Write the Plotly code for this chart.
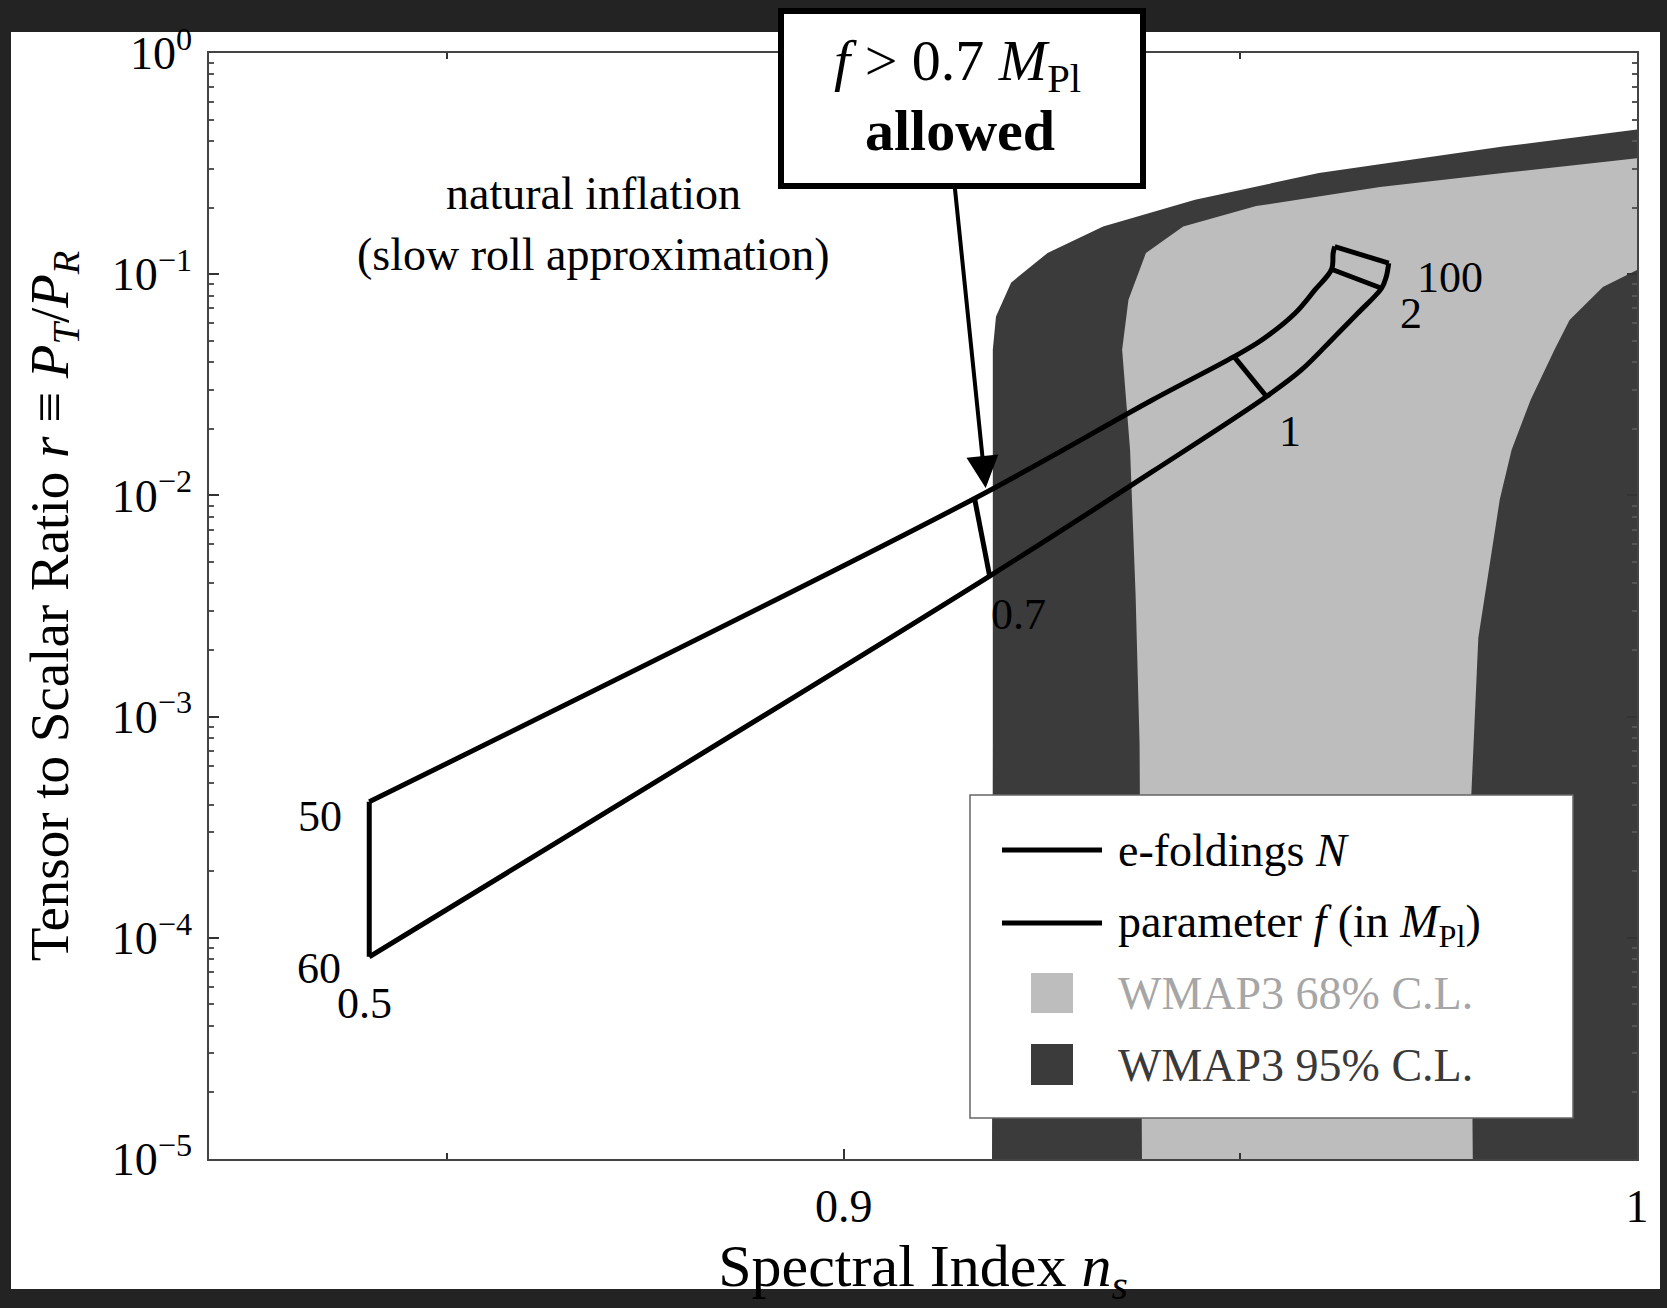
import numpy as np
import plotly.graph_objects as go

# ---------------- data ----------------
# axes
x_range = [0.82, 1.0]
y_range_log = [-5, 0]
x_tickvals = [0.9, 1.0]
x_ticktext = ["0.9", "1"]
x_minor = [0.85, 0.95]
y_tickvals = [1e-5, 1e-4, 1e-3, 1e-2, 1e-1, 1e0]
y_ticktext = ["10<sup>−5</sup>", "10<sup>−4</sup>", "10<sup>−3</sup>",
              "10<sup>−2</sup>", "10<sup>−1</sup>", "10<sup>0</sup>"]

# natural inflation, N = 50 e-foldings (upper curve)
ns_N50 = [0.8402, 0.9165, 0.9389, 0.9492, 0.9527, 0.9569, 0.9594, 0.9615, 0.9617, 0.9619]
r_N50 = [4.12e-4, 9.69e-3, 2.70e-2, 4.24e-2, 5.04e-2, 6.66e-2, 8.49e-2, 0.1053, 0.1244, 0.1334]
# natural inflation, N = 60 e-foldings (lower curve)
ns_N60 = [0.8402, 0.9184, 0.9389, 0.9533, 0.9577, 0.9619, 0.9648, 0.9678, 0.9684, 0.9687]
r_N60 = [8.20e-5, 4.32e-3, 1.28e-2, 2.80e-2, 3.69e-2, 5.22e-2, 6.66e-2, 8.64e-2, 9.76e-2, 0.1121]
# parameter f (in M_Pl) lines: index of the point on each N curve
f_labels = ["0.5", "0.7", "1", "2", "100"]
f_idx_N50 = [0, 1, 3, 7, 9]
f_idx_N60 = [0, 1, 3, 7, 9]
N_labels = ["50", "60"]

# WMAP3 95% C.L. region
ns_wmap95 = [0.9187, 0.9188, 0.9188, 0.9192, 0.9211, 0.9257, 0.9327, 0.9443, 0.9599, 0.9831, 1.0, 1.0]
r_wmap95 = [1e-5, 7.5e-4, 4.56e-2, 6.43e-2, 9.16e-2, 0.1247, 0.1644, 0.2173, 0.2864, 0.3776, 0.4508, 1e-5]
# WMAP3 68% C.L. region
ns_wmap68 = [0.9376, 0.9373, 0.9368, 0.9361, 0.9351, 0.9359, 0.9381, 0.9428, 0.9520, 0.9676,
             0.9831, 1.0, 1.0, 0.9957, 0.9915, 0.9896, 0.9866, 0.9842, 0.9827, 0.9800,
             0.9791, 0.9791, 0.9793]
r_wmap68 = [1e-5, 7.5e-4, 3.53e-3, 1.61e-2, 4.56e-2, 7.67e-2, 0.1247, 0.1645, 0.2032, 0.2477,
            0.2864, 0.3342, 0.1045, 0.0875, 0.0621, 0.0456, 0.0271, 0.0161, 0.00957, 2.27e-3,
            4.31e-4, 8.18e-5, 1e-5]

# arrow target (f = 0.7 point)
arrow_ns, arrow_r = 0.9179, 1.08e-2

# ---------------- figure ----------------
W, H = 1667, 1308
L, R, T, B = 209, 30, 53, 149
pw, ph = W - L - R, H - T - B


def px(x):
    return (x - L) / pw


def py(y):
    return 1 - (y - T) / ph


FONT = "Liberation Serif"
fig = go.Figure()

fig.add_trace(go.Scatter(x=ns_wmap95, y=r_wmap95, mode="lines", fill="toself",
                         fillcolor="#3b3b3b", line=dict(width=0, color="#3b3b3b"),
                         hoverinfo="skip"))
fig.add_trace(go.Scatter(x=ns_wmap68, y=r_wmap68, mode="lines", fill="toself",
                         fillcolor="#bdbdbd", line=dict(width=0, color="#bdbdbd"),
                         hoverinfo="skip"))

for xs, ys in ((ns_N50, r_N50), (ns_N60, r_N60)):
    fig.add_trace(go.Scatter(x=xs, y=ys, mode="lines",
                             line=dict(color="black", width=5, shape="spline", smoothing=1.0)))

for i50, i60 in zip(f_idx_N50, f_idx_N60):
    fig.add_trace(go.Scatter(x=[ns_N50[i50], ns_N60[i60]], y=[r_N50[i50], r_N60[i60]],
                             mode="lines", line=dict(color="black", width=5)))

y_minor = [m * 10.0 ** e for e in range(-5, 0) for m in range(2, 10)]

fig.update_xaxes(range=x_range, tickvals=x_tickvals, ticktext=x_ticktext,
                 ticks="inside", ticklen=10, tickwidth=1.5, tickcolor="#333",
                 mirror="ticks", showline=True, linecolor="#444", linewidth=1.5,
                 showgrid=False, zeroline=False, tickfont=dict(size=46, family=FONT),
                 ticklabelstandoff=6,
                 minor=dict(tickvals=x_minor, ticks="inside", ticklen=6, tickcolor="#333"),
                 title=dict(text="Spectral Index <i>n</i><sub><i>s</i></sub>",
                            font=dict(size=60, family=FONT), standoff=14))
fig.update_yaxes(type="log", range=y_range_log, tickvals=y_tickvals, ticktext=y_ticktext,
                 ticks="inside", ticklen=10, tickwidth=1.5, tickcolor="#333",
                 mirror="ticks", showline=True, linecolor="#444", linewidth=1.5,
                 showgrid=False, zeroline=False, tickfont=dict(size=46, family=FONT),
                 ticklabelstandoff=6,
                 minor=dict(tickvals=y_minor, ticks="inside", ticklen=5, tickcolor="#555"),
                 title=dict(text="Tensor to Scalar Ratio <i>r</i> ≡ <i>P</i><sub><i>T</i></sub>/<i>P</i><sub><i>R</i></sub>",
                            font=dict(size=55, family=FONT), standoff=26))

shapes = [
    # scanned page (white) over dark scanner background
    dict(type="rect", xref="paper", yref="paper", x0=px(11), x1=px(1660), y0=py(1289), y1=py(32),
         fillcolor="white", line=dict(width=0), layer="below"),
    # annotation box
    dict(type="rect", xref="paper", yref="paper", x0=px(781), x1=px(1143), y0=py(186), y1=py(11),
         fillcolor="white", line=dict(color="black", width=6), layer="above"),
    # legend box
    dict(type="rect", xref="paper", yref="paper", x0=px(970), x1=px(1573), y0=py(1118), y1=py(795),
         fillcolor="white", line=dict(color="#666", width=1.5), layer="above"),
    dict(type="line", xref="paper", yref="paper", x0=px(1002), x1=px(1102), y0=py(850), y1=py(850),
         line=dict(color="black", width=5), layer="above"),
    dict(type="line", xref="paper", yref="paper", x0=px(1002), x1=px(1102), y0=py(923), y1=py(923),
         line=dict(color="black", width=5), layer="above"),
    dict(type="rect", xref="paper", yref="paper", x0=px(1031), x1=px(1073), y0=py(1013), y1=py(973),
         fillcolor="#bdbdbd", line=dict(width=0), layer="above"),
    dict(type="rect", xref="paper", yref="paper", x0=px(1031), x1=px(1073), y0=py(1085), y1=py(1044),
         fillcolor="#3b3b3b", line=dict(width=0), layer="above"),
]

ann = []


def text(t, x, y, size=44, color="black", xanchor="center"):
    ann.append(dict(text=t, xref="paper", yref="paper", x=px(x), y=py(y), showarrow=False,
                    xanchor=xanchor, yanchor="middle",
                    font=dict(size=size, family=FONT, color=color)))


# curve labels
text(N_labels[0], 320, 816)
text(N_labels[1], 319, 968)
text(f_labels[0], 364, 1003)
text(f_labels[1], 1018, 614)
text(f_labels[2], 1290, 431)
text(f_labels[3], 1411, 313)
text(f_labels[4], 1450, 277)
text("natural inflation", 593, 193, size=46)
text("(slow roll approximation)", 593, 255, size=46)
# box text
text("<i>f</i> > 0.7 <i>M</i><sub>Pl</sub>", 957, 64, size=58)
text("<b>allowed</b>", 960, 130, size=58)
# legend text
text("e-foldings <i>N</i>", 1116, 850, size=46, xanchor="left")
text("parameter <i>f</i> (in <i>M</i><sub>Pl</sub>)", 1116, 925, size=46, xanchor="left")
text("WMAP3 68% C.L.", 1116, 993, size=46, color="#a6a6a6", xanchor="left")
text("WMAP3 95% C.L.", 1116, 1065, size=46, color="#3a3a3a", xanchor="left")

# arrow from box to the f = 0.7 point
ann.append(dict(x=arrow_ns, y=float(np.log10(arrow_r)), xref="x", yref="y", ax=-31, ay=-302,
                axref="pixel", ayref="pixel", text="", showarrow=True, arrowhead=2,
                arrowsize=1.6, arrowwidth=4, arrowcolor="black"))

fig.update_layout(width=W, height=H, margin=dict(l=L, r=R, t=T, b=B, autoexpand=False),
                  paper_bgcolor="#232323", plot_bgcolor="white", showlegend=False,
                  font=dict(family=FONT, color="black"),
                  shapes=shapes, annotations=ann)

fig.write_html("out.html")
